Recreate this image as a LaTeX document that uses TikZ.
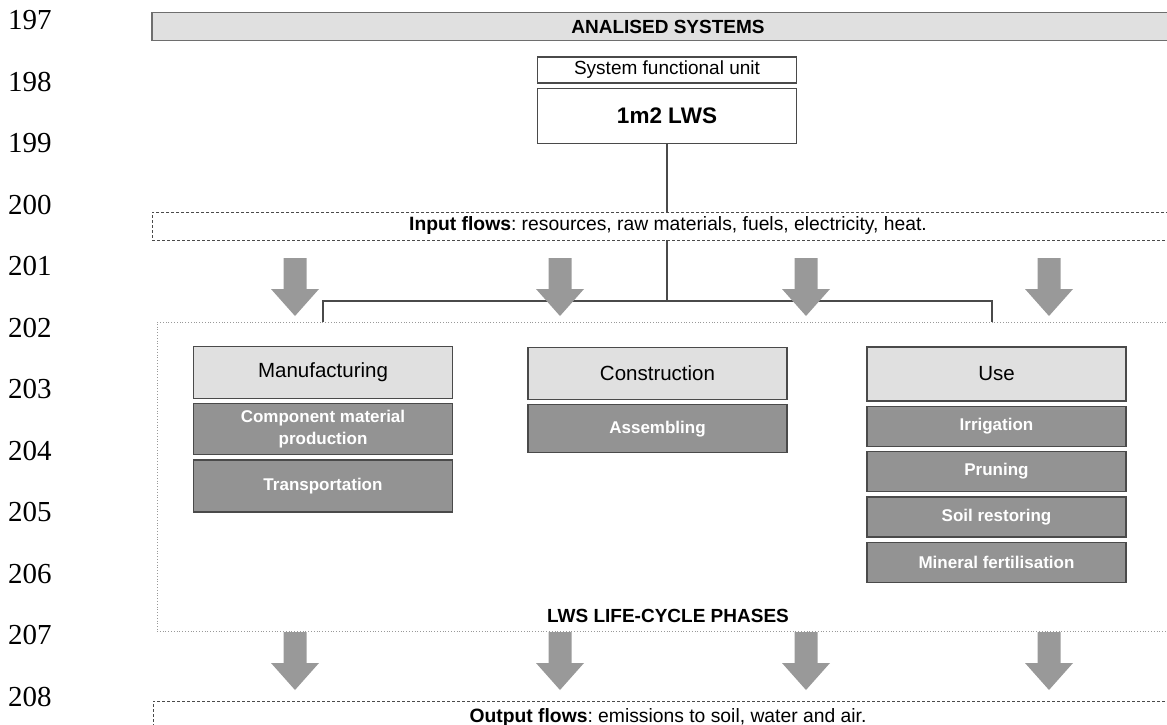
\documentclass[tikz,border=0pt]{standalone}
\usepackage{fontspec}
\setmainfont{Liberation Sans}
\newfontfamily\linenofont{Liberation Serif}
\usetikzlibrary{positioning}

\definecolor{lightfill}{HTML}{E0E0E0}
\definecolor{stepfill}{HTML}{939393}
\definecolor{edgegray}{HTML}{4A4A4A}
\definecolor{arrowgray}{HTML}{999999}

\begin{document}
\begin{tikzpicture}[x=1pt, y=-1pt,
    bar/.style={rectangle, draw=edgegray!80, fill=lightfill, line width=1.3pt, minimum width=1032pt, minimum height=28pt, inner sep=0pt, font=\bfseries\fontsize{19}{20}\selectfont},
    flowbox/.style={rectangle, draw=edgegray, fill=white, dash pattern=on 3pt off 2pt, line width=0.8pt, minimum height=28pt, inner sep=0pt, font=\frenchspacing\fontsize{19.3}{20}\selectfont},
    unitbox/.style={rectangle, draw=edgegray, line width=1.3pt, minimum width=259pt, inner sep=0pt},
    phase/.style={rectangle, draw=edgegray, fill=lightfill, line width=1.3pt, minimum width=259pt, minimum height=52pt, inner sep=0pt, font=\fontsize{20.5}{22}\selectfont},
    stepbox/.style={rectangle, draw=edgegray, fill=stepfill, line width=1.3pt, minimum width=259pt, minimum height=51pt, inner sep=0pt, align=center, text=white, font=\bfseries\fontsize{17}{21.5}\selectfont},
    link/.style={draw=edgegray, line width=1.3pt},
    lineno/.style={anchor=west, inner sep=0pt, font=\linenofont\fontsize{29}{30}\selectfont}
]
    \useasboundingbox (0,0) rectangle (1167,724);
    \clip (0,0) rectangle (1167,724);

    % page line numbers
    \foreach \n [count=\i from 0] in {197,...,208}
        \node[lineno] (ln\n) at (8,20+61.5*\i) {\n};

    % system and functional unit
    \node[bar] (systems) at (668,26.5) {ANALISED SYSTEMS};
    \node[unitbox, minimum height=26pt, font=\fontsize{19}{20}\selectfont] (fulabel) at (667,70) {System functional unit};
    \node[unitbox, minimum height=55pt, font=\bfseries\fontsize{22.5}{24}\selectfont] (fu) at (667,116) {1m2 LWS};

    % tree to the phases
    \coordinate (split) at (667,301);
    \coordinate (brleft) at (323,301);
    \coordinate (brright) at (992,301);
    \draw[link] (fu.south) -- (split);
    \node[flowbox, minimum width=1032pt] (inputs) at (668,226) {\textbf{Input flows}: resources, raw materials, fuels, electricity, heat.};

    \node[rectangle, draw=gray!80, dotted, line width=0.8pt, minimum width=1022pt, minimum height=309pt] (phases) at (668,476.5) {};
    \node[font=\bfseries\fontsize{19}{20}\selectfont] (phasetitle) at (668,616) {LWS LIFE-CYCLE PHASES};
    \draw[link] (brleft |- phases.north) -- (brleft) -- (brright) -- (brright |- phases.north);

    % phases
    \node[phase] (manuf) at (323,372.5) {Manufacturing};
    \node[stepbox, below=4pt of manuf] (compprod) {Component material\\production};
    \node[stepbox, minimum height=52pt, below=4pt of compprod] (transport) {Transportation};

    \node[phase] (constr) at (657.5,373.5) {Construction};
    \node[stepbox, minimum height=48pt, below=4pt of constr] (assembly) {Assembling};

    \node[phase, minimum height=54pt] (use) at (996.5,374) {Use};
    \node[stepbox, minimum height=40pt, below=4pt of use] (irrig) {Irrigation};
    \node[stepbox, minimum height=40pt, below=4pt of irrig] (pruning) {Pruning};
    \node[stepbox, minimum height=40pt, below=4pt of pruning] (soil) {Soil restoring};
    \node[stepbox, minimum height=40pt, below=4pt of soil] (fert) {Mineral fertilisation};

    % outputs
    \node[flowbox, minimum width=1030pt, minimum height=32pt] (outputs) at (668,717) {\textbf{Output flows}: emissions to soil, water and air.};

    % block arrows in and out
    \foreach \x in {295,560,806,1049} {
        \fill[arrowgray] (\x-11.5,258) -- (\x+11.5,258) -- (\x+11.5,289) -- (\x+24,289) -- (\x,316) -- (\x-24,289) -- (\x-11.5,289) -- cycle;
        \fill[arrowgray] (\x-11.5,632) -- (\x+11.5,632) -- (\x+11.5,663) -- (\x+24,663) -- (\x,690) -- (\x-24,663) -- (\x-11.5,663) -- cycle;
    }
\end{tikzpicture}
\end{document}
